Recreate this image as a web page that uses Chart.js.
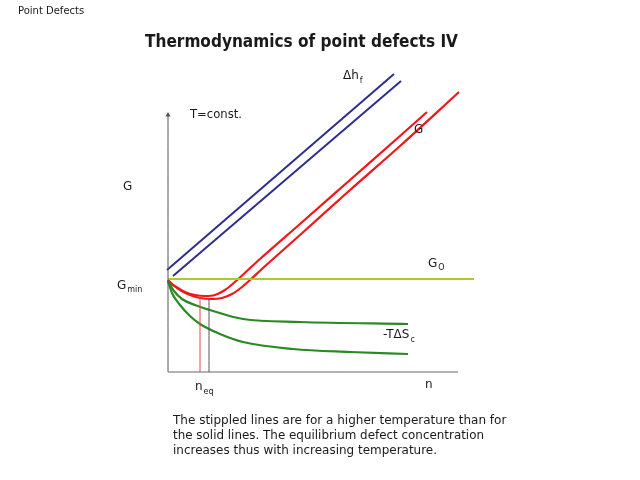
<!DOCTYPE html>
<html>
<head>
<meta charset="utf-8">
<script src="https://cdn.jsdelivr.net/npm/chart.js@4"></script>
<style>
  html, body { margin: 0; padding: 0; background: #fff; }
  canvas { display: block; }
</style>
</head>
<body>
<canvas id="c" width="640" height="480"></canvas>
<script>
// values (n along x, G along y, arbitrary units)
const gUpperX = [0, 4, 10, 17, 27, 37, 47, 57, 68, 80, 92, 132, 182, 232, 259];
const gUpperY = [92, 88, 84, 80, 77, 76, 77, 82, 91, 102, 113, 148, 192, 236, 260];
const gLowerX = [0, 5, 12, 22, 32, 44, 54, 64, 74, 82, 95, 132, 182, 232, 291];
const gLowerY = [92, 87, 82, 77, 74, 73, 74, 78, 85, 92, 104, 137, 182, 226, 280];
const hUpperX = [-1, 226];
const hUpperY = [102, 298];
const hLowerX = [5, 233];
const hLowerY = [96, 291];
const g0X = [0, 306];
const g0Y = [93, 93];
const sUpperX = [0, 6, 14, 27, 42, 75, 132, 240];
const sUpperY = [91, 81, 73, 67, 62, 53, 50, 48];
const sLowerX = [0, 4, 12, 22, 32, 52, 75, 125, 182, 240];
const sLowerY = [91, 79, 67, 56, 48, 38, 30, 23, 20, 18];
const nEqRed = [32, 75];   // x, top
const nEqGray = [41, 73];
const axisLenX = 290;
const axisLenY = 257;

const pts = (xs, ys) => xs.map((x, i) => ({ x: x, y: ys[i] }));

const red = '#f01818', blue = '#2e2e8c', green = '#2a8a22', lime = '#a8cc2c';

function curve(data, color, w) {
  return { data: data, borderColor: color, borderWidth: w, pointRadius: 0,
    showLine: true, fill: false, clip: false, cubicInterpolationMode: 'monotone' };
}

const datasets = [
  curve([{x: 0, y: 0}, {x: axisLenX, y: 0}], '#666', 1),
  Object.assign(curve([{x: 0, y: 0}, {x: 0, y: axisLenY}], '#555', 1), {
    pointRadius: [0, 3], pointStyle: 'triangle', pointBackgroundColor: '#555', pointBorderWidth: 0
  }),
  curve([{x: nEqRed[0], y: 0}, {x: nEqRed[0], y: nEqRed[1]}], '#f04040', 1),
  curve([{x: nEqGray[0], y: 0}, {x: nEqGray[0], y: nEqGray[1]}], '#555', 1),
  curve(pts(hUpperX, hUpperY), blue, 2),
  curve(pts(hLowerX, hLowerY), blue, 2),
  curve(pts(sUpperX, sUpperY), green, 2.2),
  curve(pts(sLowerX, sLowerY), green, 2.2),
  curve(pts(g0X, g0Y), lime, 2.2),
  curve(pts(gUpperX, gUpperY), red, 2.2),
  curve(pts(gLowerX, gLowerY), red, 2.2)
];

const F = '"DejaVu Sans", sans-serif';

const textPlugin = {
  id: 'texts',
  afterDraw(chart) {
    const ctx = chart.ctx;
    ctx.save();
    ctx.fillStyle = '#1a1a1a';
    ctx.textBaseline = 'alphabetic';
    ctx.textAlign = 'left';
    function t(s, x, y, size, bold, maxW) {
      ctx.font = (bold ? 'bold ' : '') + size + 'px ' + F;
      if (maxW) ctx.fillText(s, x, y, maxW); else ctx.fillText(s, x, y);
      return ctx.measureText(s).width;
    }
    t('Point Defects', 18, 14, 10, false, 70);
    t('Thermodynamics of point defects IV', 145, 47, 17, true, 313);
    t('T=const.', 190, 118, 12, false, 52);
    t('G', 123, 190, 12, false);
    let w = t('G', 117, 289, 12, false);
    t('min', 117 + w + 1, 292, 8, false);
    w = t('\u0394h', 343, 79, 12, false);
    t('f', 343 + w + 1, 83, 8, false);
    t('G', 414, 133, 12, false);
    w = t('G', 428, 267, 12, false);
    t('O', 428 + w + 1, 270, 8, false);
    w = t('-T\u0394S', 383, 338, 12, false);
    t('c', 383 + w + 1, 342, 8, false);
    w = t('n', 195, 390, 12, false);
    t('eq', 195 + w + 1, 394, 8, false);
    t('n', 425, 388, 12, false);
    t('The stippled lines are for a higher temperature than for', 173, 424, 12, false, 345);
    t('the solid lines. The equilibrium defect concentration', 173, 439, 12, false, 311);
    t('increases thus with increasing temperature.', 173, 454, 12, false, 264);
    ctx.restore();
  }
};

new Chart(document.getElementById('c'), {
  type: 'scatter',
  data: { datasets: datasets },
  options: {
    responsive: false,
    animation: false,
    layout: { padding: { left: 148, right: 162, top: 62, bottom: 98 } },
    plugins: { legend: { display: false }, tooltip: { enabled: false } },
    scales: {
      x: { type: 'linear', min: -20, max: 310, display: false },
      y: { type: 'linear', min: -10, max: 310, display: false }
    }
  },
  plugins: [textPlugin]
});
</script>
</body>
</html>
